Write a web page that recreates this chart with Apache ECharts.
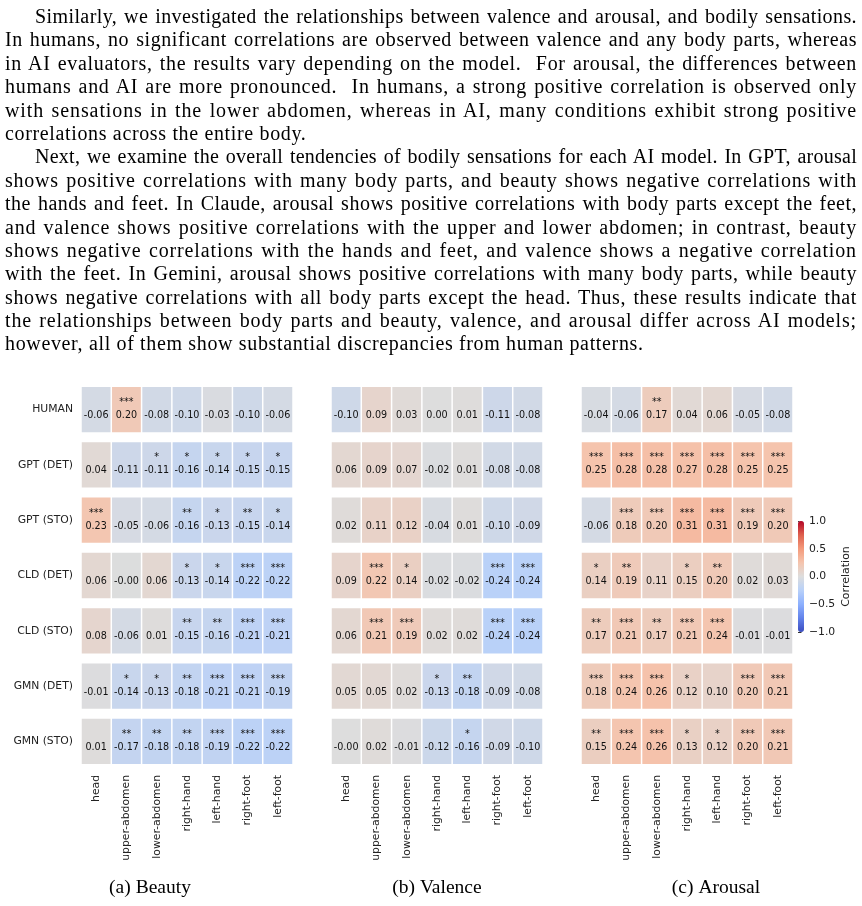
<!DOCTYPE html>
<html>
<head>
<meta charset="utf-8">
<title>Correlation heatmaps</title>
<script src="https://cdn.jsdelivr.net/npm/echarts@6/dist/echarts.min.js"></script>
<style>
    html, body {margin: 0; padding: 0; background: #fff;}
    #page {position: relative; width: 862px; height: 906px; overflow: hidden;}
    #charts {position: absolute; left: 0; top: 0; width: 862px; height: 906px;}
    #text {position: absolute; left: 5px; top: 5px; width: 852px; z-index: 2;
        font-family: "Liberation Serif", serif; font-size: 20px; line-height: 23.4px; color: #000;}
    #text div {text-align: justify; text-align-last: justify; height: 23.4px;}
    #text div.ind {text-indent: 30px;}
    #text div.last {text-align-last: left;}
</style>
</head>
<body>
<div id="page">
    <div id="charts"></div>
    <div id="text">
        <div class="ind">Similarly, we investigated the relationships between valence and arousal, and bodily sensations.</div>
        <div>In humans, no significant correlations are observed between valence and any body parts, whereas</div>
        <div>in AI evaluators, the results vary depending on the model.&nbsp; For arousal, the differences between</div>
        <div>humans and AI are more pronounced.&nbsp; In humans, a strong positive correlation is observed only</div>
        <div>with sensations in the lower abdomen, whereas in AI, many conditions exhibit strong positive</div>
        <div class="last">correlations across the entire body.</div>
        <div class="ind">Next, we examine the overall tendencies of bodily sensations for each AI model. In GPT, arousal</div>
        <div>shows positive correlations with many body parts, and beauty shows negative correlations with</div>
        <div>the hands and feet. In Claude, arousal shows positive correlations with body parts except the feet,</div>
        <div>and valence shows positive correlations with the upper and lower abdomen; in contrast, beauty</div>
        <div>shows negative correlations with the hands and feet, and valence shows a negative correlation</div>
        <div>with the feet. In Gemini, arousal shows positive correlations with many body parts, while beauty</div>
        <div>shows negative correlations with all body parts except the head. Thus, these results indicate that</div>
        <div>the relationships between body parts and beauty, valence, and arousal differ across AI models;</div>
        <div class="last">however, all of them show substantial discrepancies from human patterns.</div>
    </div>
</div>
<script>
var bodyParts = ['head', 'upper-abdomen', 'lower-abdomen', 'right-hand', 'left-hand', 'right-foot', 'left-foot'];
var evaluators = ['HUMAN', 'GPT (DET)', 'GPT (STO)', 'CLD (DET)', 'CLD (STO)', 'GMN (DET)', 'GMN (STO)'];

var beautyValues = [
    [-0.06, 0.20, -0.08, -0.10, -0.03, -0.10, -0.06],
    [0.04, -0.11, -0.11, -0.16, -0.14, -0.15, -0.15],
    [0.23, -0.05, -0.06, -0.16, -0.13, -0.15, -0.14],
    [0.06, -0.004, 0.06, -0.13, -0.14, -0.22, -0.22],
    [0.08, -0.06, 0.01, -0.15, -0.16, -0.21, -0.21],
    [-0.01, -0.14, -0.13, -0.18, -0.21, -0.21, -0.19],
    [0.01, -0.17, -0.18, -0.18, -0.19, -0.22, -0.22]
];
var beautyStars = [
    ['', '***', '', '', '', '', ''],
    ['', '', '*', '*', '*', '*', '*'],
    ['***', '', '', '**', '*', '**', '*'],
    ['', '', '', '*', '*', '***', '***'],
    ['', '', '', '**', '**', '***', '***'],
    ['', '*', '*', '**', '***', '***', '***'],
    ['', '**', '**', '**', '***', '***', '***']
];

var valenceValues = [
    [-0.10, 0.09, 0.03, 0.00, 0.01, -0.11, -0.08],
    [0.06, 0.09, 0.07, -0.02, 0.01, -0.08, -0.08],
    [0.02, 0.11, 0.12, -0.04, 0.01, -0.10, -0.09],
    [0.09, 0.22, 0.14, -0.02, -0.02, -0.24, -0.24],
    [0.06, 0.21, 0.19, 0.02, 0.02, -0.24, -0.24],
    [0.05, 0.05, 0.02, -0.13, -0.18, -0.09, -0.08],
    [-0.003, 0.02, -0.01, -0.12, -0.16, -0.09, -0.10]
];
var valenceStars = [
    ['', '', '', '', '', '', ''],
    ['', '', '', '', '', '', ''],
    ['', '', '', '', '', '', ''],
    ['', '***', '*', '', '', '***', '***'],
    ['', '***', '***', '', '', '***', '***'],
    ['', '', '', '*', '**', '', ''],
    ['', '', '', '', '*', '', '']
];

var arousalValues = [
    [-0.04, -0.06, 0.17, 0.04, 0.06, -0.05, -0.08],
    [0.25, 0.28, 0.28, 0.27, 0.28, 0.25, 0.25],
    [-0.06, 0.18, 0.20, 0.31, 0.31, 0.19, 0.20],
    [0.14, 0.19, 0.11, 0.15, 0.20, 0.02, 0.03],
    [0.17, 0.21, 0.17, 0.21, 0.24, -0.01, -0.01],
    [0.18, 0.24, 0.26, 0.12, 0.10, 0.20, 0.21],
    [0.15, 0.24, 0.26, 0.13, 0.12, 0.20, 0.21]
];
var arousalStars = [
    ['', '', '**', '', '', '', ''],
    ['***', '***', '***', '***', '***', '***', '***'],
    ['', '***', '***', '***', '***', '***', '***'],
    ['*', '**', '', '*', '**', '', ''],
    ['**', '***', '**', '***', '***', '', ''],
    ['***', '***', '***', '*', '', '***', '***'],
    ['**', '***', '***', '*', '*', '***', '***']
];

var captions = ['(a) Beauty', '(b) Valence', '(c) Arousal'];

// coolwarm
var coolwarm = ['#3b4cc0', '#6282ea', '#8db0fe', '#b8d0f9', '#dddddd', '#f5c4ad', '#f49a7b', '#de604d', '#b40426'];

fitText();
staticChart();

// widen letters a little so the justified lines don't get huge word gaps (CM is wider than Times)
function fitText() {
    var lines = document.querySelectorAll('#text div');
    var total = 0, n = 0, i;
    for (i = 0; i < lines.length; i++) {
        var d = lines[i];
        if (d.className.indexOf('last') >= 0) continue;
        d.style.display = 'inline-block';
        d.style.whiteSpace = 'nowrap';
        var w = d.getBoundingClientRect().width;
        d.style.display = '';
        d.style.whiteSpace = '';
        var txt = d.textContent;
        var spaces = txt.split(' ').length - 1;
        var ls = (852 - w - spaces * 1.5) / (txt.length + 1);
        if (ls < 0) ls = 0;
        d.style.letterSpacing = ls.toFixed(2) + 'px';
        total += ls; n++;
    }
    for (i = 0; i < lines.length; i++) {
        if (lines[i].className.indexOf('last') >= 0) {
            lines[i].style.letterSpacing = (total / n).toFixed(2) + 'px';
        }
    }
}

function toData(values) {
    var out = [];
    for (var r = 0; r < values.length; r++) {
        for (var c = 0; c < values[r].length; c++) {
            out.push([c, r, values[r][c]]);
        }
    }
    return out;
}

function fmt(v) {
    var s = Math.abs(v).toFixed(2);
    return (v < 0 ? '-' : '') + s;
}

function cellRenderer(stars) {
    return function (params, api) {
        var c = api.coord([api.value(0), api.value(1)]);
        var s = api.size([1, 1]);
        var w = s[0] - 1.5, h = s[1] - 10;
        var star = stars[api.value(1)][api.value(0)];
        return {
            type: 'group',
            children: [{
                type: 'rect',
                shape: {x: c[0] - w / 2, y: c[1] - h / 2, width: w, height: h},
                style: {fill: api.visual('color')}
            }, {
                type: 'text',
                style: {text: star, x: c[0], y: c[1] - 7, align: 'center', verticalAlign: 'middle',
                    fill: '#111', fontSize: 9.6, fontFamily: 'DejaVu Sans'}
            }, {
                type: 'text',
                style: {text: fmt(api.value(2)), x: c[0], y: c[1] + 6, align: 'center', verticalAlign: 'middle',
                    fill: '#111', fontSize: 9.6, fontFamily: 'DejaVu Sans'}
            }]
        };
    };
}

function staticChart() {
    var myChart = echarts.init(document.getElementById('charts'));
    var lefts = [81, 331, 581];
    var panels = [
        {values: beautyValues, stars: beautyStars},
        {values: valenceValues, stars: valenceStars},
        {values: arousalValues, stars: arousalStars}
    ];
    var grid = [], xAxis = [], yAxis = [], series = [], graphic = [];
    var captionX = [150, 437, 716];

    for (var i = 0; i < 3; i++) {
        grid.push({left: lefts[i], top: 382, width: 212, height: 387});
        xAxis.push({
            gridIndex: i,
            type: 'category',
            data: bodyParts,
            position: 'bottom',
            axisLine: {show: false},
            axisTick: {show: false},
            splitLine: {show: false},
            axisLabel: {rotate: 90, margin: 6, fontSize: 10.8, color: '#222', interval: 0}
        });
        yAxis.push({
            gridIndex: i,
            type: 'category',
            data: evaluators,
            inverse: true,
            axisLine: {show: false},
            axisTick: {show: false},
            splitLine: {show: false},
            axisLabel: {show: i === 0, margin: 8, fontSize: 10.8, color: '#222', interval: 0}
        });
        series.push({
            type: 'custom',
            coordinateSystem: 'cartesian2d',
            xAxisIndex: i,
            yAxisIndex: i,
            encode: {x: 0, y: 1},
            renderItem: cellRenderer(panels[i].stars),
            data: toData(panels[i].values)
        });
        graphic.push({
            type: 'text',
            x: captionX[i],
            y: 888,
            style: {text: captions[i], align: 'center', verticalAlign: 'middle',
                textAlign: 'center', textVerticalAlign: 'middle',
                font: '19.5px "Liberation Serif"', fill: '#000'}
        });
    }

    // colorbar axis
    grid.push({left: 798, top: 521, width: 6, height: 111});
    xAxis.push({gridIndex: 3, type: 'value', show: false});
    yAxis.push({
        gridIndex: 3,
        type: 'value',
        position: 'right',
        min: -1,
        max: 1,
        interval: 0.5,
        axisLine: {show: false},
        axisTick: {show: true, length: 3.5, lineStyle: {color: '#333'}},
        splitLine: {show: false},
        axisLabel: {
            margin: 5, fontSize: 10.8, color: '#222',
            formatter: function (v) { return (v < 0 ? '\u2212' : '') + Math.abs(v).toFixed(1); }
        },
        name: 'Correlation',
        nameLocation: 'middle',
        nameRotate: 90,
        nameGap: 37,
        nameTextStyle: {fontSize: 11, color: '#222'}
    });

    var option = {
        animation: false,
        backgroundColor: '#fff',
        textStyle: {fontFamily: 'DejaVu Sans'},
        grid: grid,
        xAxis: xAxis,
        yAxis: yAxis,
        visualMap: {
            type: 'continuous',
            min: -1,
            max: 1,
            dimension: 2,
            seriesIndex: [0, 1, 2],
            calculable: false,
            hoverLink: false,
            left: 798,
            top: 521,
            itemWidth: 6,
            itemHeight: 111,
            padding: 0,
            text: null,
            inRange: {color: coolwarm}
        },
        graphic: graphic,
        series: series
    };

    myChart.setOption(option);
    window.addEventListener('resize', function () {myChart.resize();});
}
</script>
</body>
</html>
